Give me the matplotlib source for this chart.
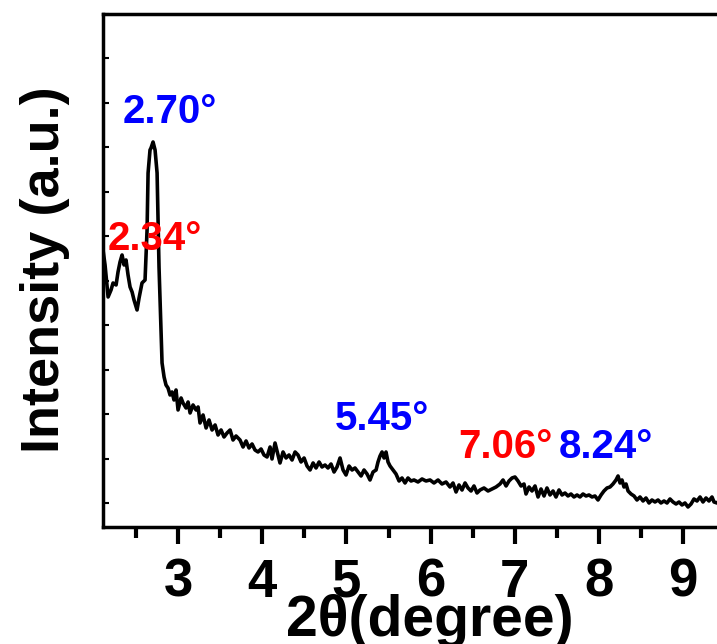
import numpy as np
import matplotlib
matplotlib.use("Agg")
from matplotlib import pyplot as plt
from matplotlib.ticker import MultipleLocator

plt.rcParams['font.family'] = ['Liberation Sans', 'DejaVu Sans']
plt.rcParams['font.weight'] = 'bold'

# XRD pattern (2theta in degree, intensity in a.u.)
two_theta = [
    2.109, 2.133, 2.169, 2.204, 2.228, 2.264, 2.287, 2.311, 2.335, 2.359,
    2.382, 2.406, 2.430, 2.454, 2.477, 2.513, 2.537, 2.572, 2.608, 2.632,
    2.644, 2.667, 2.679, 2.703, 2.727, 2.751, 2.774, 2.798, 2.810, 2.834,
    2.857, 2.881, 2.905, 2.929, 2.952, 2.976, 3.000, 3.036, 3.059, 3.095,
    3.119, 3.143, 3.178, 3.214, 3.238, 3.261, 3.297, 3.333, 3.368, 3.404,
    3.440, 3.475, 3.511, 3.546, 3.582, 3.618, 3.653, 3.689, 3.736, 3.772,
    3.808, 3.843, 3.879, 3.914, 3.950, 3.986, 4.021, 4.057, 4.093, 4.116,
    4.152, 4.188, 4.211, 4.247, 4.283, 4.318, 4.354, 4.390, 4.425, 4.461,
    4.497, 4.532, 4.568, 4.604, 4.639, 4.675, 4.710, 4.746, 4.781, 4.817,
    4.853, 4.888, 4.924, 4.960, 4.995, 5.031, 5.067, 5.102, 5.138, 5.174,
    5.209, 5.245, 5.280, 5.316, 5.352, 5.375, 5.399, 5.423, 5.447, 5.470,
    5.494, 5.518, 5.553, 5.589, 5.625, 5.660, 5.696, 5.731, 5.767, 5.803,
    5.850, 5.898, 5.945, 5.993, 6.040, 6.088, 6.135, 6.183, 6.230, 6.266,
    6.302, 6.337, 6.373, 6.409, 6.444, 6.480, 6.515, 6.551, 6.587, 6.634,
    6.682, 6.729, 6.777, 6.824, 6.860, 6.896, 6.931, 6.967, 7.002, 7.038,
    7.074, 7.109, 7.133, 7.169, 7.204, 7.240, 7.276, 7.311, 7.347, 7.382,
    7.418, 7.454, 7.489, 7.525, 7.561, 7.596, 7.632, 7.667, 7.703, 7.739,
    7.774, 7.810, 7.846, 7.881, 7.917, 7.952, 7.988, 8.024, 8.059, 8.095,
    8.131, 8.166, 8.202, 8.226, 8.250, 8.273, 8.297, 8.321, 8.345, 8.380,
    8.416, 8.451, 8.487, 8.523, 8.558, 8.594, 8.629, 8.665, 8.701, 8.736,
    8.772, 8.808, 8.843, 8.879, 8.915, 8.950, 8.986, 9.021, 9.057, 9.093,
    9.128, 9.164, 9.200, 9.235, 9.271, 9.306, 9.342, 9.366, 9.401, 9.440,
]
intensity = [
    277, 262, 230, 237, 244, 242, 255, 265, 272, 262,
    267, 252, 240, 235, 227, 217, 229, 244, 247, 297,
    354, 377, 379, 385, 377, 354, 260, 197, 164, 150,
    142, 139, 132, 135, 127, 137, 117, 129, 124, 119,
    125, 114, 122, 117, 120, 104, 112, 99, 107, 97,
    102, 92, 97, 90, 94, 97, 87, 91, 87, 80,
    86, 79, 83, 77, 75, 78, 72, 70, 80, 68,
    84, 72, 64, 75, 69, 72, 67, 75, 72, 65,
    69, 61, 57, 64, 59, 65, 60, 62, 59, 63,
    55, 60, 69, 57, 52, 61, 57, 59, 55, 51,
    57, 53, 47, 55, 57, 65, 71, 75, 69, 75,
    65, 61, 57, 53, 46, 49, 44, 49, 46, 47,
    45, 48, 46, 47, 44, 47, 43, 45, 40, 44,
    35, 42, 37, 44, 39, 36, 41, 34, 37, 39,
    36, 38, 40, 43, 47, 41, 46, 49, 50, 46,
    41, 43, 33, 40, 36, 41, 30, 38, 31, 39,
    32, 36, 30, 37, 32, 34, 31, 33, 30, 32,
    30, 33, 31, 32, 30, 31, 27, 32, 36, 39,
    40, 43, 47, 51, 44, 47, 40, 43, 36, 33,
    31, 27, 30, 26, 29, 24, 27, 25, 27, 24,
    26, 24, 28, 25, 23, 25, 22, 24, 20, 23,
    28, 26, 30, 25, 29, 26, 30, 25, 24, 27,
]

# peak labels: text, x, y, colour
peak_text = ['2.70°', '2.34°', '5.45°', '7.06°', '8.24°']
peak_x = [2.905, 2.727, 5.423, 6.884, 8.083]
peak_y = [404, 277, 97, 69, 69]
peak_color = ['#0000ff', '#ff0000', '#0000ff', '#ff0000', '#0000ff']

fig = plt.figure(figsize=(7.17, 6.44), dpi=100)
ax = fig.add_axes([0.1437, 0.1817, 0.862, 0.7966])

ax.plot(two_theta, intensity, color='black', lw=2.6)

for t, x, y, c in zip(peak_text, peak_x, peak_y, peak_color):
    ax.text(x, y, t, color=c, fontsize=29, fontweight='bold',
            ha='center', va='baseline')

ax.set_xlim(2.109, 9.45)
ax.set_ylim(0, 513)

ax.xaxis.set_major_locator(MultipleLocator(1))
ax.xaxis.set_minor_locator(MultipleLocator(0.5))
ax.set_yticks(np.arange(23.5, 514, 44.5))
ax.set_yticklabels([])

ax.tick_params(axis='x', which='major', direction='out', length=12, width=3,
               labelsize=38, pad=10)
ax.tick_params(axis='x', which='minor', direction='out', length=8, width=3)
ax.tick_params(axis='y', direction='in', length=4, width=1.5)
for lab in ax.get_xticklabels():
    lab.set_fontweight('bold')

for s in ax.spines.values():
    s.set_linewidth(2.5)

fig.text(0.600, 0.0124, '2θ(degree)', fontsize=41, fontweight='bold',
         ha='center', va='baseline')
fig.text(0.063, 0.581, 'Intensity (a.u.)', fontsize=39, fontweight='bold',
         ha='center', va='center', rotation=90)

fig.savefig('out.png', dpi=100)
